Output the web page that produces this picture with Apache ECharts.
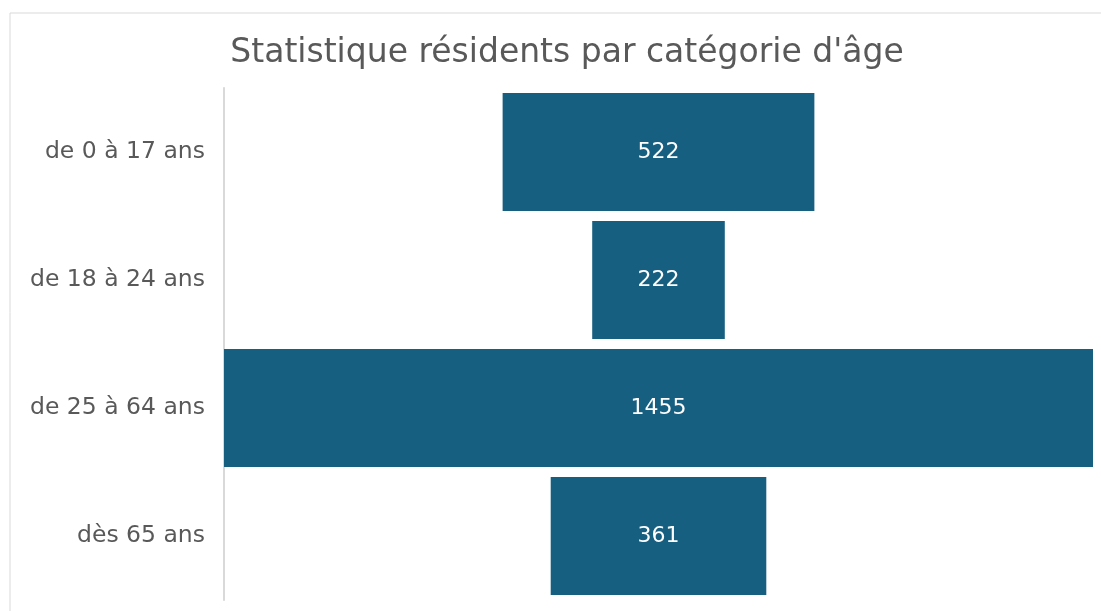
<!DOCTYPE html>
<html>
<head>
<meta charset="utf-8">
<script src="https://cdn.jsdelivr.net/npm/echarts@6/dist/echarts.min.js"></script>
<style>
html, body { margin: 0; padding: 0; background: #fff; }
#chart { width: 1101px; height: 611px; }
</style>
</head>
<body>
<div id="chart"></div>
<script>
// categories et valeurs
var categories = ['de 0 à 17 ans', 'de 18 à 24 ans', 'de 25 à 64 ans', 'dès 65 ans'];
var residents = [522, 222, 1455, 361];

var maxVal = Math.max.apply(null, residents);
// décalage invisible pour centrer les barres
var offsets = residents.map(function (v) { return (maxVal - v) / 2; });

var myChart = echarts.init(document.getElementById('chart'));
var option = {
    backgroundColor: '#fff',
    title: {
        text: "Statistique résidents par catégorie d'âge",
        left: 562,
        textAlign: 'center',
        top: 32,
        textStyle: { fontFamily: 'DejaVu Sans', fontSize: 33, fontWeight: 'normal', color: '#595959' }
    },
    graphic: [{
        type: 'rect',
        shape: { x: 10, y: 13, width: 1200, height: 700 },
        style: { fill: 'none', stroke: '#d9d9d9', lineWidth: 1 },
        silent: true
    }],
    grid: { left: 224, right: 8, top: 88, bottom: 11, containLabel: false },
    xAxis: {
        type: 'value', min: 0, max: maxVal,
        show: false
    },
    yAxis: {
        type: 'category',
        data: categories,
        inverse: true,
        axisLine: { show: true, lineStyle: { color: '#d9d9d9', width: 2 } },
        axisTick: { show: false },
        axisLabel: { fontFamily: 'DejaVu Sans', fontSize: 23.5, color: '#595959', margin: 19 }
    },
    series: [
        {
            type: 'bar', stack: 'total', data: offsets,
            itemStyle: { color: 'transparent' },
            silent: true, barCategoryGap: '8%'
        },
        {
            name: 'Résidents', type: 'bar', stack: 'total', data: residents,
            barCategoryGap: '8%',
            itemStyle: { color: '#175f81' },
            label: {
                show: true, position: 'inside', color: '#fff',
                fontFamily: 'DejaVu Sans', fontSize: 22
            }
        }
    ]
};
myChart.setOption(option, true);
</script>
</body>
</html>
